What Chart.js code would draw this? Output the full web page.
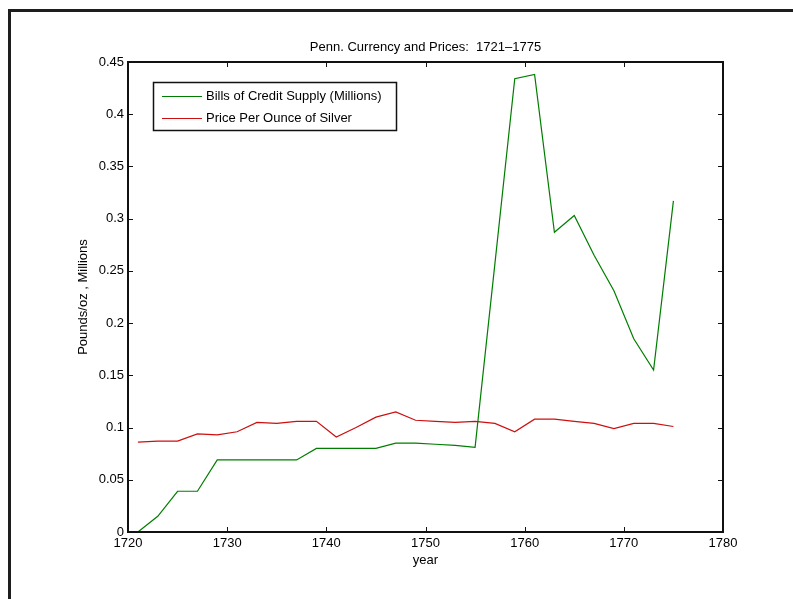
<!DOCTYPE html>
<html>
<head>
<meta charset="utf-8">
<script src="https://cdn.jsdelivr.net/npm/chart.js@4"></script>
<style>
  body { margin: 0; background: #fff; }
  canvas { display: block; }
</style>
</head>
<body>
<canvas id="pennChart" width="793" height="599"></canvas>
<script>
// Data (every other year, 1721-1775)
const years = [1721, 1723, 1725, 1727, 1729, 1731, 1733, 1735, 1737, 1739,
               1741, 1743, 1745, 1747, 1749, 1751, 1753, 1755, 1757, 1759,
               1761, 1763, 1765, 1767, 1769, 1771, 1773, 1775];
const billsSupply = [0, 0.015, 0.039, 0.039, 0.069, 0.069, 0.069, 0.069, 0.069, 0.080,
                     0.080, 0.080, 0.080, 0.085, 0.085, 0.084, 0.083, 0.081, 0.257, 0.434,
                     0.438, 0.287, 0.303, 0.265, 0.231, 0.185, 0.155, 0.317];
const silverPrice = [0.086, 0.087, 0.087, 0.094, 0.093, 0.096, 0.105, 0.104, 0.106, 0.106,
                     0.091, 0.100, 0.110, 0.115, 0.107, 0.106, 0.105, 0.106, 0.104, 0.096,
                     0.108, 0.108, 0.106, 0.104, 0.099, 0.104, 0.104, 0.101];
const seriesNames = ['Bills of Credit Supply (Millions)', 'Price Per Ounce of Silver'];
const chartTitle = 'Penn. Currency and Prices:  1721\u20131775';

const FONT = '"Liberation Sans", Arial, Helvetica, sans-serif';
const FSIZE = 13;

const toPoints = vals => years.map((yr, i) => ({ x: yr, y: vals[i] }));

// MATLAB-ish look: boxed axes, inward ticks, bordered legend, title
const matlabFrame = {
  id: 'matlabFrame',
  beforeDraw(chart) {
    const ctx = chart.ctx;
    ctx.save();
    ctx.fillStyle = '#fff';
    ctx.fillRect(0, 0, chart.width, chart.height);
    ctx.restore();
  },
  afterDraw(chart) {
    const { ctx, chartArea: a, scales: { x, y } } = chart;
    ctx.save();
    ctx.strokeStyle = '#111';

    // axes box
    ctx.lineWidth = 2;
    ctx.strokeRect(Math.round(a.left), Math.round(a.top),
                   Math.round(a.width), Math.round(a.height));

    // inward ticks
    const len = 5;
    ctx.lineWidth = 1;
    ctx.beginPath();
    x.ticks.forEach(t => {
      const px = Math.round(x.getPixelForValue(t.value)) + 0.5;
      ctx.moveTo(px, a.bottom); ctx.lineTo(px, a.bottom - len);
      ctx.moveTo(px, a.top); ctx.lineTo(px, a.top + len);
    });
    y.ticks.forEach(t => {
      const py = Math.round(y.getPixelForValue(t.value)) + 0.5;
      ctx.moveTo(a.left, py); ctx.lineTo(a.left + len, py);
      ctx.moveTo(a.right, py); ctx.lineTo(a.right - len, py);
    });
    ctx.stroke();

    // title
    ctx.fillStyle = '#000';
    ctx.font = FSIZE + 'px ' + FONT;
    ctx.textAlign = 'center';
    ctx.textBaseline = 'middle';
    ctx.fillText(chartTitle, (a.left + a.right) / 2, 47);

    // legend box
    const lx = 153.5, ly = 82.5, lw = 243, lh = 48;
    ctx.fillStyle = '#fff';
    ctx.fillRect(lx, ly, lw, lh);
    ctx.lineWidth = 1.5;
    ctx.strokeRect(lx, ly, lw, lh);
    ctx.lineWidth = 1;
    ctx.textAlign = 'left';
    chart.data.datasets.forEach((ds, i) => {
      const ry = 96 + i * 22;
      ctx.strokeStyle = ds.borderColor;
      ctx.beginPath();
      ctx.moveTo(162, ry + 0.5);
      ctx.lineTo(202, ry + 0.5);
      ctx.stroke();
      ctx.fillStyle = '#000';
      ctx.fillText(ds.label, 206, ry);
    });

    // outer figure frame (top and left edges)
    ctx.fillStyle = '#1e1e1e';
    ctx.fillRect(8, 9, chart.width - 8, 3);
    ctx.fillRect(8, 9, 3, chart.height - 9);
    ctx.restore();
  }
};

const ctx = document.getElementById('pennChart').getContext('2d');

const pennChart = new Chart(ctx, {
  type: 'line',
  data: {
    datasets: [{
      label: seriesNames[0],
      data: toPoints(billsSupply),
      borderColor: 'rgb(0,125,0)',
      borderWidth: 1.2,
      pointRadius: 0,
      tension: 0
    }, {
      label: seriesNames[1],
      data: toPoints(silverPrice),
      borderColor: 'rgb(205,15,15)',
      borderWidth: 1.2,
      pointRadius: 0,
      tension: 0
    }]
  },
  options: {
    responsive: false,
    animation: false,
    layout: { padding: { left: 0, top: 62, right: 70, bottom: 0 } },
    plugins: {
      legend: { display: false },
      tooltip: { enabled: false }
    },
    scales: {
      x: {
        type: 'linear',
        min: 1720,
        max: 1780,
        afterFit: s => { s.height = 67; },
        grid: { display: false, drawTicks: false },
        border: { display: false },
        ticks: {
          stepSize: 10,
          padding: 4,
          color: '#000',
          font: { family: FONT, size: FSIZE },
          callback: v => String(v)
        },
        title: {
          display: true,
          text: 'year',
          color: '#000',
          font: { family: FONT, size: FSIZE },
          padding: { top: 0, bottom: 31 }
        }
      },
      y: {
        min: 0,
        max: 0.45,
        afterFit: s => { s.width = 128; },
        grid: { display: false, drawTicks: false },
        border: { display: false },
        ticks: {
          stepSize: 0.05,
          padding: 4,
          color: '#000',
          font: { family: FONT, size: FSIZE },
          callback: v => String(parseFloat(v.toFixed(2)))
        },
        title: {
          display: true,
          text: 'Pounds/oz , Millions',
          color: '#000',
          font: { family: FONT, size: FSIZE },
          padding: { top: 76, bottom: 0 }
        }
      }
    }
  },
  plugins: [matlabFrame]
});
</script>
</body>
</html>
